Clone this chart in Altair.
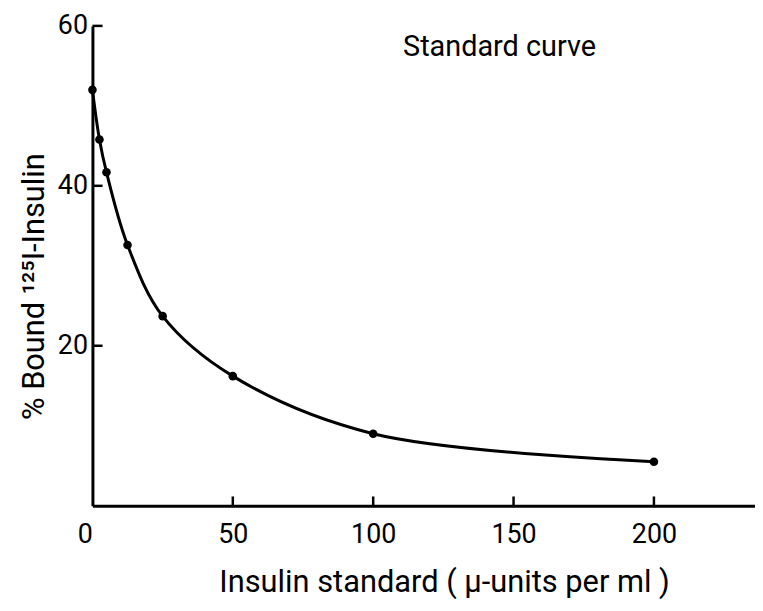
import altair as alt
import pandas as pd

# Standard curve data (insulin RIA)
conc = [0, 2.5, 5, 12.5, 25, 50, 100, 200]
bound = [52.0, 45.8, 41.7, 32.6, 23.7, 16.2, 9.0, 5.5]

x_ticks = [0, 50, 100, 150, 200]
x_inner_ticks = [50, 100, 150, 200]
y_ticks = [20, 40, 60]

note_text = ["Standard curve"]
note_x = [145]
note_y = [57.3]

FONT = "Roboto"
XMAX = 236
YMAX = 60
XTICK_LEN = 1.15   # inward tick length on x axis, in y units
YTICK_LEN = 3.6    # inward tick length on y axis, in x units

df = pd.DataFrame({"conc": conc, "bound": bound})
xt = pd.DataFrame({"tx": x_inner_ticks})
yt = pd.DataFrame({"ty": y_ticks})
notes = pd.DataFrame({"t": note_text, "nx": note_x, "ny": note_y})

xscale = alt.Scale(domain=[0, XMAX], nice=False, zero=False)
yscale = alt.Scale(domain=[0, YMAX], nice=False, zero=False)

xaxis = alt.Axis(
    values=x_ticks, ticks=False, tickSize=0, grid=False,
    domainColor="black", domainWidth=3,
    labelFont=FONT, labelFontSize=27, labelColor="black", labelPadding=16,
    labelAlign={"condition": {"test": "datum.value === 0", "value": "right"}, "value": "center"},
    labelFlush=False,
    title="Insulin standard ( µ-units per ml )",
    titleFont=FONT, titleFontSize=31, titleFontWeight="normal", titleColor="black",
    titleX=354, titleY=86, titleBaseline="alphabetic", titleAlign="center",
)
yaxis = alt.Axis(
    values=y_ticks, ticks=False, tickSize=0, grid=False,
    domainColor="black", domainWidth=3,
    labelFont=FONT, labelFontSize=27, labelColor="black", labelPadding=5,
    labelBaseline="middle",
    title="% Bound ¹²⁵I-Insulin",
    titleFont=FONT, titleFontSize=31, titleFontWeight="normal", titleColor="black",
    titleAngle=270, titleX=-58, titleY=262, titleAlign="center", titleBaseline="middle",
)

line = alt.Chart(df).mark_line(color="black", strokeWidth=3, interpolate="catmull-rom").encode(
    x=alt.X("conc:Q", scale=xscale, axis=xaxis),
    y=alt.Y("bound:Q", scale=yscale, axis=yaxis),
)
pts = alt.Chart(df).mark_circle(color="black", size=75, opacity=1).encode(
    x=alt.X("conc:Q", scale=xscale),
    y=alt.Y("bound:Q", scale=yscale),
)
xtick_layer = alt.Chart(xt).transform_calculate(
    a="0", b=str(XTICK_LEN)
).mark_rule(color="black", strokeWidth=2.5).encode(
    x=alt.X("tx:Q", scale=xscale),
    y=alt.Y("a:Q", scale=yscale),
    y2=alt.Y2("b:Q"),
)
ytick_layer = alt.Chart(yt).transform_calculate(
    a="0", b=str(YTICK_LEN)
).mark_rule(color="black", strokeWidth=2.5).encode(
    y=alt.Y("ty:Q", scale=yscale),
    x=alt.X("a:Q", scale=xscale),
    x2=alt.X2("b:Q"),
)
note_layer = alt.Chart(notes).mark_text(
    font=FONT, fontSize=29, color="black", align="center", baseline="middle"
).encode(
    x=alt.X("nx:Q", scale=xscale),
    y=alt.Y("ny:Q", scale=yscale),
    text="t:N",
)

chart = alt.layer(line, pts, xtick_layer, ytick_layer, note_layer).properties(
    width=667, height=483,
    autosize=alt.AutoSizeParams(type="none"),
    padding={"left": 85, "top": 16, "right": 0, "bottom": 100},
    background="white",
).configure_view(stroke=None)

chart.save("out.html", embed_options={"renderer": "svg", "actions": False})
